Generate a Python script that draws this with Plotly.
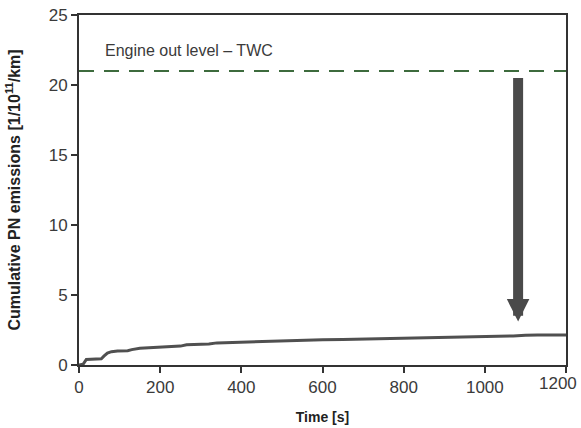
import plotly.graph_objects as go

time_s = [0, 10, 18, 30, 55, 62, 70, 80, 95, 120, 130, 150, 180, 200, 220, 250, 265, 300, 320, 340, 360, 400, 440, 460, 500, 540, 560, 600, 650, 700, 750, 800, 850, 900, 950, 1000, 1040, 1070, 1100, 1130, 1200]
pn_cum = [0, 0.05, 0.4, 0.42, 0.45, 0.65, 0.85, 0.95, 1.0, 1.02, 1.1, 1.2, 1.25, 1.27, 1.3, 1.35, 1.45, 1.47, 1.5, 1.58, 1.6, 1.62, 1.65, 1.7, 1.72, 1.75, 1.8, 1.8, 1.82, 1.85, 1.88, 1.9, 1.93, 1.95, 1.97, 2.0, 2.02, 2.08, 2.12, 2.15, 2.15]

engine_out_level = 21
engine_out_label = "Engine out level – TWC"
label_x = 58
label_y = 22.5
arrow_x = 1082
arrow_from = 20.6
arrow_to = 3.1

x_ticks = [0, 200, 400, 600, 800, 1000, 1200]
x_tick_labels = ["0", "200", "400", "600", "800", "1000", ""]
x_last_label = "1200"
y_ticks = [0, 5, 10, 15, 20, 25]

font_family = "Liberation Sans, Arial, sans-serif"
text_color = "#3a3a3a"
tick_size = 17

fig = go.Figure()
fig.add_trace(go.Scatter(x=time_s, y=pn_cum, mode="lines",
                         line=dict(color="#505050", width=3), showlegend=False))
fig.add_trace(go.Scatter(x=[0, 1200], y=[engine_out_level] * 2, mode="lines",
                         line=dict(color="#3d6b3d", width=2, dash="15px,10px"), showlegend=False))

fig.add_annotation(x=arrow_x, y=arrow_to, ax=arrow_x, ay=arrow_from,
                   xref="x", yref="y", axref="x", ayref="y",
                   showarrow=True, arrowhead=2, arrowsize=0.45, arrowwidth=10,
                   arrowcolor="#4a4a4a", text="")
fig.add_annotation(x=label_x, y=label_y, xref="x", yref="y",
                   text=engine_out_label, showarrow=False, xanchor="left", yanchor="middle",
                   font=dict(size=16, color=text_color, family=font_family))
fig.add_annotation(x=x_ticks[-1], y=0, xref="x", yref="paper",
                   text=x_last_label, showarrow=False, xanchor="right", yanchor="top",
                   xshift=13, yshift=-7,
                   font=dict(size=tick_size, color=text_color, family=font_family))

axis_common = dict(showline=True, linecolor="#333", linewidth=2, mirror=True,
                   ticks="outside", ticklen=6, tickwidth=2, tickcolor="#333",
                   showgrid=False, zeroline=False, automargin=False,
                   ticklabeloverflow="allow",
                   tickfont=dict(size=tick_size, color=text_color, family=font_family))

fig.update_xaxes(range=[0, 1200], tickvals=x_ticks, ticktext=x_tick_labels,
                 title=dict(text="<b>Time [s]</b>", font=dict(size=14, color="#222", family=font_family), standoff=16),
                 **axis_common)
fig.update_yaxes(range=[0, 25], tickvals=y_ticks,
                 title=dict(text="<b>Cumulative PN emissions [1/10<sup>11</sup>/km]</b>", font=dict(size=16, color="#222", family=font_family), standoff=24),
                 **axis_common)

fig.update_layout(width=581, height=428, margin=dict(l=79, r=15, t=15, b=63),
                  plot_bgcolor="white", paper_bgcolor="white",
                  font=dict(family=font_family, color=text_color))

fig.write_html("out.html", config={"displayModeBar": False},
               post_script="document.body.style.margin='0';")
